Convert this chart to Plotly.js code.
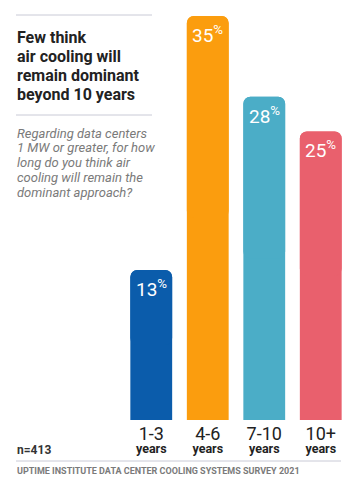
<!DOCTYPE html>
<html><head><meta charset="utf-8">
<script src="https://cdn.plot.ly/plotly-3.0.1.min.js"></script>
<style>html,body{margin:0;padding:0;background:#fff;}#chart{width:358px;height:492px;}</style>
</head><body><div id="chart"></div>
<script>
const categories = ["1-3", "4-6", "7-10", "10+"];
const unitLabel = "years";
const values = [13, 35, 28, 25];
const barColors = ["#0b5cab", "#fb9d0e", "#4badc7", "#e9606d"];
const titleLines = ["Few think", "air cooling will", "remain dominant", "beyond 10 years"];
const subtitleLines = ["Regarding data centers", "1 MW or greater, for how", "long do you think air", "cooling will remain the", "dominant approach?"];
const sampleNote = "n=413";
const sourceNote = "UPTIME INSTITUTE DATA CENTER COOLING SYSTEMS SURVEY 2021";

const W = 358, H = 492;
const L = 123, R = 9, T = 16, B = 72;
const PW = W - L - R, PH = H - T - B;
const px = x => (x - L) / PW;
const py = y => (H - B - y) / PH;
const FONT = "Roboto, 'Open Sans', sans-serif";

const annotations = [];
titleLines.forEach((t, i) => annotations.push({
  xref: "paper", yref: "paper", x: px(15), y: py(37 + i * 19.3), xanchor: "left", yanchor: "middle",
  text: "<b>" + t + "</b>", showarrow: false, font: {family: FONT, size: 16, color: "#222"}
}));
subtitleLines.forEach((t, i) => annotations.push({
  xref: "paper", yref: "paper", x: px(15), y: py(133 + i * 14.8), xanchor: "left", yanchor: "middle",
  text: "<i>" + t + "</i>", showarrow: false, font: {family: FONT, size: 13, color: "#7a7a7a"}
}));
categories.forEach((c, i) => {
  annotations.push({
    xref: "x", yref: "y", x: c, y: values[i], yanchor: "top", yshift: -4,
    text: values[i] + "<sup>%</sup>", showarrow: false, font: {family: FONT, size: 19, color: "#fff"}
  });
});
annotations.push({xref: "paper", yref: "paper", x: px(15), y: py(450), xanchor: "left", yanchor: "middle",
  text: "<b>" + sampleNote + "</b>", showarrow: false, font: {family: FONT, size: 12, color: "#333"}});
annotations.push({xref: "paper", yref: "paper", x: px(15), y: py(471), xanchor: "left", yanchor: "middle",
  text: "<b>" + sourceNote + "</b>", showarrow: false, font: {family: FONT, size: 9, color: "#7a7a7a"}});

const lineStyle = {color: "#c9cad6", width: 1};
const shapes = [
  {type: "line", xref: "paper", yref: "paper", x0: px(16), x1: px(152), y0: py(15), y1: py(15), line: lineStyle},
  {type: "line", xref: "paper", yref: "paper", x0: px(16), x1: px(152), y0: py(115), y1: py(115), line: lineStyle},
  {type: "line", xref: "paper", yref: "paper", x0: px(16), x1: px(341), y0: py(461), y1: py(461), line: lineStyle}
];

const traces = [
  {type: "bar", x: categories, y: values, marker: {color: barColors, cornerradius: 7}, width: 0.74, hoverinfo: "skip"},
  {type: "bar", x: categories, y: values.map(v => -v / 2), base: values, marker: {color: barColors, cornerradius: 7}, width: 0.74, hoverinfo: "skip"}
];

const tickText = categories.map(c => "<span style='font-size:18px'>" + c + "</span><br><span style='font-size:12.5px'><b>" + unitLabel + "</b></span>");

const layout = {
  width: W, height: H, margin: {l: L, r: R, t: T, b: B},
  paper_bgcolor: "#fff", plot_bgcolor: "#fff", showlegend: false, barmode: "overlay",
  xaxis: {type: "category", tickvals: categories, ticktext: tickText, showgrid: false, zeroline: false, showline: false,
    ticks: "", tickfont: {family: FONT, size: 10.5, color: "#222"}, ticklabelstandoff: 8, fixedrange: true},
  yaxis: {range: [0, 35], visible: false, fixedrange: true},
  annotations, shapes
};
Plotly.newPlot("chart", traces, layout, {staticPlot: true, displayModeBar: false});
</script></body></html>
